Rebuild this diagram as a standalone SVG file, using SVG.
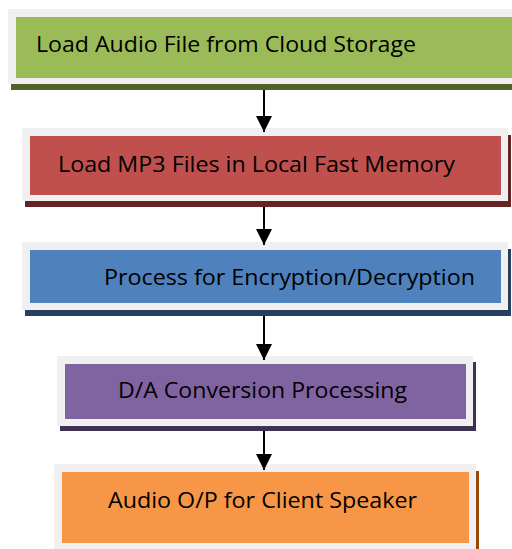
<svg xmlns="http://www.w3.org/2000/svg" width="512" height="549" viewBox="0 0 512 549">
  <defs>
    <marker id="arrowhead" markerUnits="userSpaceOnUse" markerWidth="16" markerHeight="16" refX="16" refY="8" orient="auto">
      <path d="M0,0 L16,8 L0,16 Z" fill="#000"/>
    </marker>
  </defs>
  <style>
    .frame { fill: #f0f0f0; }
    .label { font-family: "Open Sans", "Noto Sans", "Liberation Sans", sans-serif; font-size: 22px; fill: #000; }
    .connector { stroke: #000; stroke-width: 2; fill: none; marker-end: url(#arrowhead); }
  </style>
  <rect width="512" height="549" fill="#fff"/>

  <!-- Step 1 -->
  <g id="step-cloud">
    <rect x="11" y="15" width="510" height="75" fill="#4f6228"/>
    <rect class="frame" x="8" y="9" width="510" height="75"/>
    <rect x="16" y="17" width="500" height="61" fill="#9bbb59"/>
    <text class="label" x="36" y="52" textLength="380" lengthAdjust="spacingAndGlyphs">Load Audio File from Cloud Storage</text>
  </g>

  <!-- Step 2 -->
  <g id="step-local">
    <rect x="25" y="135" width="486" height="72" fill="#632523"/>
    <rect class="frame" x="22" y="128" width="486" height="73"/>
    <rect x="30" y="136" width="471" height="59" fill="#c0504d"/>
    <text class="label" x="58" y="172" textLength="397" lengthAdjust="spacingAndGlyphs">Load MP3 Files in Local Fast Memory</text>
  </g>

  <!-- Step 3 -->
  <g id="step-crypto">
    <rect x="25" y="249" width="486" height="67" fill="#243f60"/>
    <rect class="frame" x="22" y="242" width="486" height="68"/>
    <rect x="30" y="250" width="471" height="53" fill="#4f81bd"/>
    <text class="label" x="104" y="285" textLength="371" lengthAdjust="spacingAndGlyphs">Process for Encryption/Decryption</text>
  </g>

  <!-- Step 4 -->
  <g id="step-dac">
    <rect x="60" y="362" width="416" height="69" fill="#3f3151"/>
    <rect class="frame" x="57" y="356" width="416" height="70"/>
    <rect x="65" y="364" width="401" height="55" fill="#8064a2"/>
    <text class="label" x="118" y="398" textLength="289" lengthAdjust="spacingAndGlyphs">D/A Conversion Processing</text>
  </g>

  <!-- Step 5 -->
  <g id="step-speaker">
    <rect x="57" y="471" width="422" height="90" fill="#974806"/>
    <rect class="frame" x="54" y="464" width="422" height="90"/>
    <rect x="62" y="472" width="407" height="71" fill="#f79646"/>
    <text class="label" x="108" y="508" textLength="309" lengthAdjust="spacingAndGlyphs">Audio O/P for Client Speaker</text>
  </g>

  <!-- Flow connectors -->
  <g id="connectors">
    <line class="connector" x1="264" y1="90" x2="264" y2="132"/>
    <line class="connector" x1="264" y1="207" x2="264" y2="245"/>
    <line class="connector" x1="264" y1="316" x2="264" y2="360"/>
    <line class="connector" x1="264" y1="431" x2="264" y2="470"/>
  </g>
</svg>
